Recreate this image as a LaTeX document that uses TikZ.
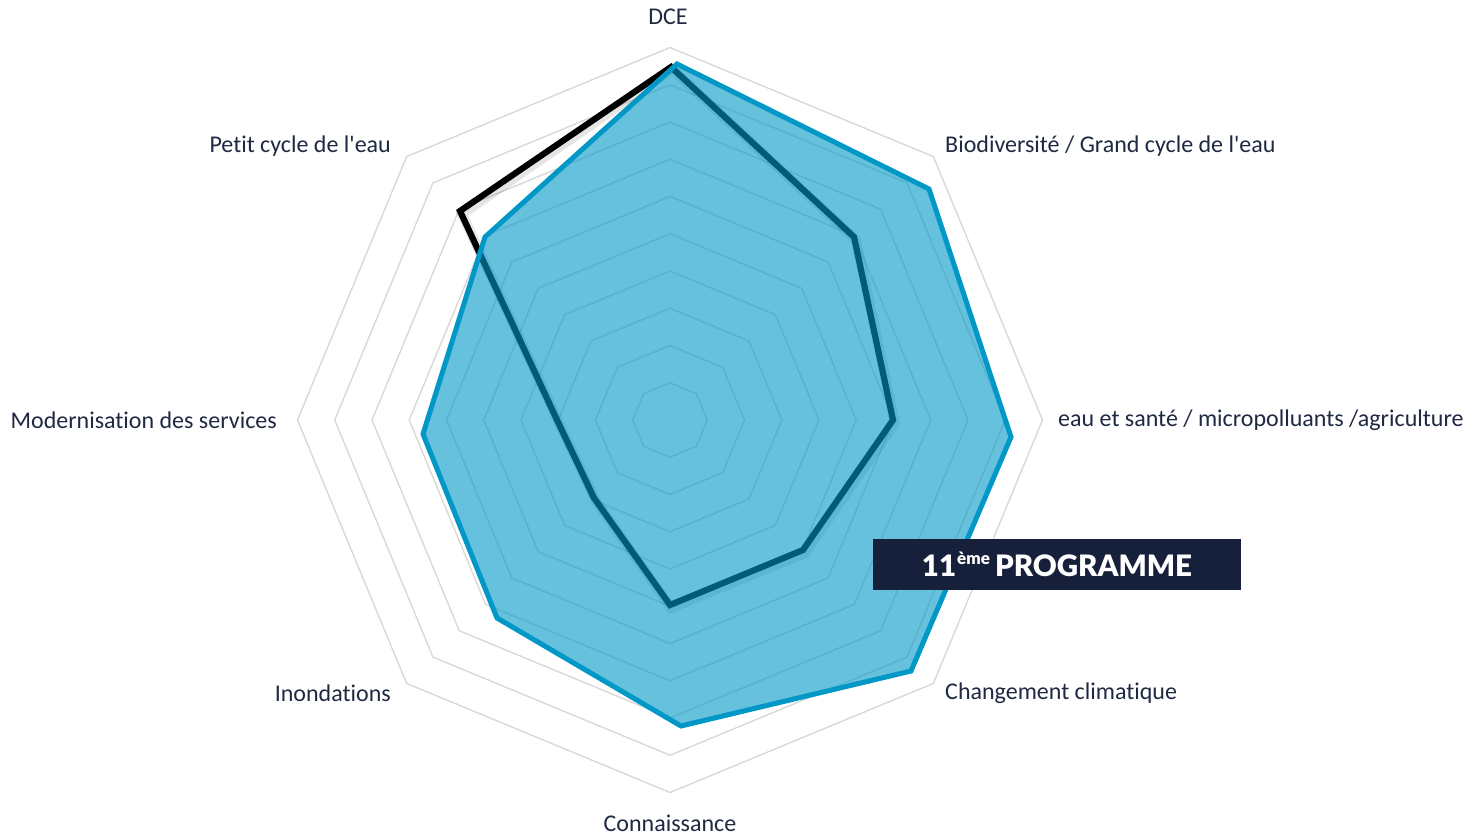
\documentclass[tikz,border=0pt]{standalone}
\usepackage{fontspec}
\setmainfont{Carlito}[Ligatures={NoCommon}]
\newfontfamily\boxfont{Lato Black}
\definecolor{gridgray}{RGB}{217,217,217}
\definecolor{serblue}{RGB}{1,152,199}
\definecolor{labelcol}{RGB}{31,41,66}
\definecolor{boxnavy}{RGB}{22,32,59}
\tikzset{
  gridline/.style={draw=gridgray, line width=1.4pt},
  axislabel/.style={text=labelcol, font=\fontsize{24}{28}\selectfont, inner sep=0pt},
  prevline/.style={draw=black, line width=6.2pt},
  prevshadow/.style={draw=black, line width=10pt, opacity=0.10},
  curfill/.style={fill=serblue, fill opacity=0.6, draw=none},
  curline/.style={draw=serblue, line width=5pt},
  progbox/.style={fill=boxnavy, text=white, minimum width=368pt, minimum height=51pt, inner sep=0pt,
    font=\boxfont\fontsize{29.5}{34}\selectfont}
}
\begin{document}
\begin{tikzpicture}[x=1pt,y=-1pt]
\useasboundingbox (0,0) rectangle (1481,835);
\fill[white] (0,0) rectangle (1481,835);
% grid octagons
\begin{scope}[shift={(670,420)}]
\foreach \k in {1,...,10}{
  \pgfmathsetmacro{\r}{37.25*\k}
  \draw[gridline] (90:\r) -- (135:\r) -- (180:\r) -- (225:\r) -- (270:\r) -- (315:\r) -- (0:\r) -- (45:\r) -- cycle;
}
\end{scope}
% previous programme (black)
\draw[prevshadow] (672,69) -- (856,240) -- (895,423) -- (805,553) -- (671,608) -- (596,501) -- (559,423) -- (462,214) -- cycle;
\draw[prevline] (671,67) -- (854,237) -- (893,420) -- (803,550) -- (670,605) -- (594,498) -- (557,420) -- (460,211) -- cycle;
% 11th programme (blue)
\fill[curfill] (677,64) -- (929,189) -- (1011,437) -- (911,671) -- (681,726) -- (497,618) -- (423,434) -- (485,237) -- cycle;
\draw[curline] (677,64) -- (929,189) -- (1011,437) -- (911,671) -- (681,726) -- (497,618) -- (423,434) -- (485,237) -- cycle;
% labels
\node[axislabel] (dce) at (668,17) {DCE};
\node[axislabel, anchor=west] (bio) at (945,146) {Biodiversité / Grand cycle de l\textquotesingle eau};
\node[axislabel, anchor=west] (sante) at (1058,420) {eau et santé / micropolluants /agriculture};
\node[axislabel, anchor=west] (clim) at (945,693) {Changement climatique};
\node[axislabel] (conn) at (670,823) {Connaissance};
\node[axislabel, anchor=east] (inond) at (391,693) {Inondations};
\node[axislabel, anchor=east] (moder) at (277,420) {Modernisation des services};
\node[axislabel, anchor=east] (petit) at (391,146) {Petit cycle de l\textquotesingle eau};
% box
\node[progbox] (prog) at (1057,564.5) {11\kern1pt\raisebox{0.42em}{\fontsize{17}{20}\selectfont ème}\kern5pt PROGRAMME};
\end{tikzpicture}
\end{document}
